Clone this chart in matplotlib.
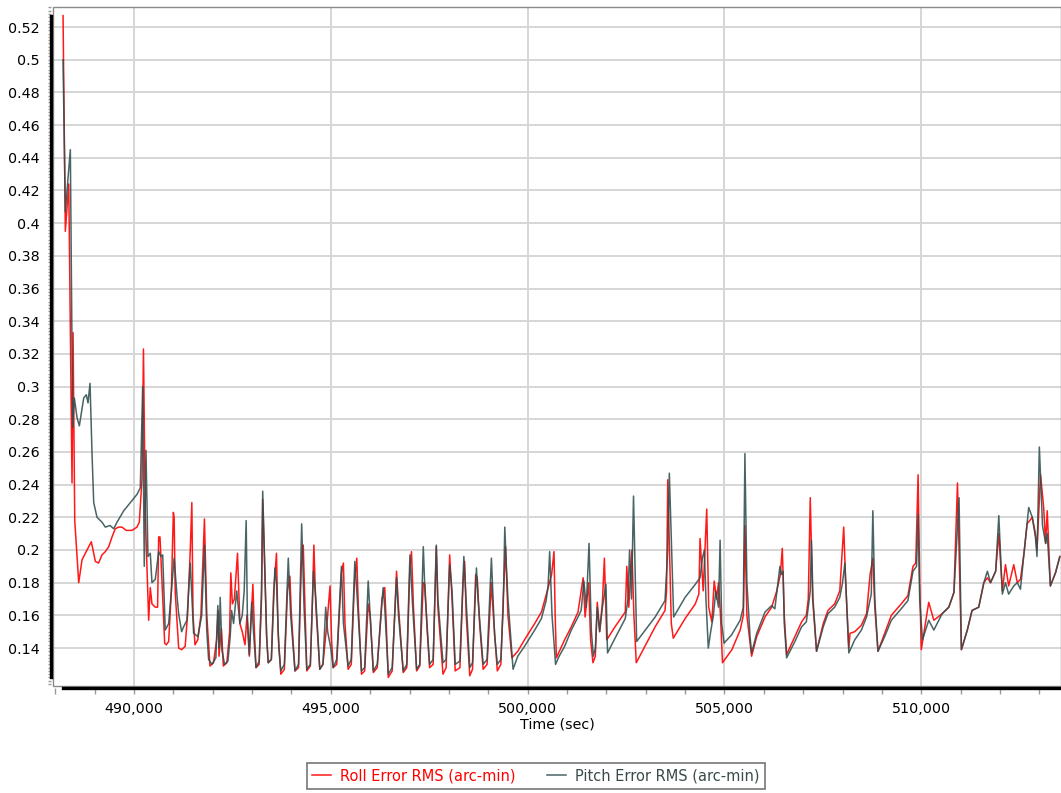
import numpy as np
import matplotlib
matplotlib.use("Agg")
import matplotlib.pyplot as plt
from matplotlib.patches import Rectangle
from matplotlib.ticker import MultipleLocator, FixedLocator, FuncFormatter

# time in thousands of seconds, error RMS in arc-min
roll_points = [
    (488.198, 0.527), (488.256, 0.395), (488.343, 0.424), (488.426, 0.241), (488.452, 0.333),
    (488.495, 0.218), (488.596, 0.180), (488.680, 0.194), (488.764, 0.198), (488.850, 0.202),
    (488.916, 0.205), (488.960, 0.200), (489.018, 0.193), (489.100, 0.192), (489.188, 0.197),
    (489.272, 0.199), (489.358, 0.202), (489.442, 0.208), (489.525, 0.213), (489.610, 0.214),
    (489.695, 0.214), (489.800, 0.212), (489.949, 0.212), (490.076, 0.214), (490.135, 0.217),
    (490.203, 0.243), (490.241, 0.323), (490.287, 0.222), (490.373, 0.157), (490.414, 0.177),
    (490.457, 0.167), (490.541, 0.165), (490.600, 0.165), (490.627, 0.208), (490.660, 0.208),
    (490.685, 0.195), (490.780, 0.143), (490.820, 0.142), (490.881, 0.144), (490.950, 0.175),
    (491.000, 0.223), (491.020, 0.220), (491.048, 0.174), (491.135, 0.140), (491.210, 0.139),
    (491.300, 0.141), (491.360, 0.160), (491.430, 0.200), (491.470, 0.229), (491.500, 0.160),
    (491.550, 0.142), (491.620, 0.145), (491.700, 0.160), (491.790, 0.219), (491.850, 0.160),
    (491.930, 0.129), (492.020, 0.131), (492.100, 0.145), (492.140, 0.163), (492.160, 0.135),
    (492.220, 0.152), (492.270, 0.129), (492.360, 0.131), (492.430, 0.150), (492.460, 0.186),
    (492.500, 0.167), (492.550, 0.170), (492.630, 0.198), (492.690, 0.155), (492.750, 0.150),
    (492.820, 0.142), (492.870, 0.160), (492.930, 0.135), (493.020, 0.179), (493.060, 0.150),
    (493.100, 0.128), (493.180, 0.130), (493.240, 0.170), (493.270, 0.231), (493.310, 0.199),
    (493.370, 0.147), (493.410, 0.131), (493.490, 0.133), (493.550, 0.175), (493.620, 0.198),
    (493.660, 0.150), (493.730, 0.124), (493.820, 0.127), (493.900, 0.175), (493.960, 0.184),
    (494.000, 0.160), (494.090, 0.126), (494.180, 0.128), (494.250, 0.190), (494.300, 0.203),
    (494.350, 0.160), (494.390, 0.126), (494.480, 0.129), (494.540, 0.175), (494.570, 0.203),
    (494.620, 0.165), (494.720, 0.127), (494.800, 0.130), (494.920, 0.160), (494.980, 0.178),
    (495.020, 0.145), (495.060, 0.128), (495.150, 0.130), (495.270, 0.186), (495.320, 0.192),
    (495.360, 0.155), (495.440, 0.127), (495.520, 0.130), (495.600, 0.180), (495.660, 0.195),
    (495.700, 0.165), (495.780, 0.124), (495.860, 0.126), (495.950, 0.167), (496.000, 0.160),
    (496.080, 0.125), (496.180, 0.128), (496.300, 0.170), (496.370, 0.177), (496.400, 0.160),
    (496.460, 0.122), (496.560, 0.126), (496.670, 0.187), (496.720, 0.165), (496.840, 0.125),
    (496.930, 0.128), (497.010, 0.190), (497.050, 0.199), (497.100, 0.165), (497.180, 0.126),
    (497.260, 0.129), (497.350, 0.180), (497.390, 0.179), (497.450, 0.150), (497.510, 0.128),
    (497.600, 0.130), (497.680, 0.202), (497.720, 0.165), (497.850, 0.124), (497.930, 0.128),
    (498.020, 0.197), (498.080, 0.170), (498.160, 0.126), (498.280, 0.128), (498.360, 0.180),
    (498.400, 0.193), (498.440, 0.160), (498.530, 0.123), (498.600, 0.127), (498.680, 0.185),
    (498.720, 0.183), (498.780, 0.155), (498.870, 0.127), (498.970, 0.130), (499.080, 0.180),
    (499.130, 0.160), (499.230, 0.126), (499.320, 0.130), (499.380, 0.170), (499.440, 0.202),
    (499.500, 0.160), (499.600, 0.134), (499.750, 0.138), (499.920, 0.145), (500.050, 0.150),
    (500.180, 0.155), (500.350, 0.162), (500.500, 0.175), (500.610, 0.185), (500.670, 0.199),
    (500.700, 0.160), (500.730, 0.134), (500.940, 0.145), (501.110, 0.153), (501.280, 0.162),
    (501.410, 0.183), (501.460, 0.159), (501.550, 0.180), (501.600, 0.145), (501.660, 0.131),
    (501.720, 0.135), (501.770, 0.168), (501.830, 0.150), (501.900, 0.168), (501.950, 0.195),
    (502.010, 0.145), (502.220, 0.153), (502.480, 0.162), (502.520, 0.190), (502.570, 0.165),
    (502.650, 0.200), (502.700, 0.160), (502.760, 0.131), (503.000, 0.142), (503.240, 0.153),
    (503.490, 0.163), (503.530, 0.175), (503.560, 0.243), (503.650, 0.155), (503.700, 0.146),
    (504.000, 0.158), (504.260, 0.167), (504.350, 0.173), (504.380, 0.207), (504.460, 0.175),
    (504.550, 0.225), (504.600, 0.165), (504.680, 0.156), (504.740, 0.181), (504.800, 0.170),
    (504.850, 0.180), (504.900, 0.160), (504.950, 0.131), (505.190, 0.139), (505.400, 0.151),
    (505.480, 0.160), (505.520, 0.215), (505.570, 0.160), (505.690, 0.135), (505.820, 0.147),
    (506.030, 0.159), (506.200, 0.165), (506.330, 0.175), (506.420, 0.185), (506.470, 0.201),
    (506.520, 0.160), (506.580, 0.136), (506.790, 0.147), (506.960, 0.156), (507.080, 0.160),
    (507.130, 0.170), (507.180, 0.232), (507.240, 0.170), (507.340, 0.138), (507.510, 0.155),
    (507.630, 0.163), (507.800, 0.167), (507.930, 0.175), (508.030, 0.214), (508.080, 0.180),
    (508.160, 0.140), (508.190, 0.149), (508.310, 0.150), (508.480, 0.154), (508.610, 0.161),
    (508.700, 0.185), (508.770, 0.195), (508.820, 0.165), (508.900, 0.138), (509.070, 0.149),
    (509.240, 0.160), (509.490, 0.167), (509.660, 0.172), (509.790, 0.190), (509.860, 0.192),
    (509.920, 0.246), (509.960, 0.180), (510.000, 0.139), (510.190, 0.168), (510.320, 0.157),
    (510.530, 0.161), (510.700, 0.165), (510.830, 0.174), (510.920, 0.241), (511.020, 0.139),
    (511.170, 0.151), (511.290, 0.163), (511.460, 0.165), (511.590, 0.180), (511.680, 0.183),
    (511.760, 0.180), (511.890, 0.187), (511.970, 0.210), (512.060, 0.175), (512.140, 0.191),
    (512.220, 0.178), (512.350, 0.191), (512.440, 0.180), (512.520, 0.182), (512.610, 0.198),
    (512.690, 0.216), (512.820, 0.220), (512.900, 0.210), (512.940, 0.200), (513.030, 0.246),
    (513.110, 0.226), (513.160, 0.204), (513.200, 0.224), (513.280, 0.178), (513.410, 0.186),
    (513.520, 0.196),
]

pitch_points = [
    (488.198, 0.500), (488.256, 0.407), (488.383, 0.445), (488.443, 0.275), (488.485, 0.293),
    (488.553, 0.281), (488.612, 0.276), (488.723, 0.293), (488.789, 0.295), (488.832, 0.290),
    (488.883, 0.302), (488.934, 0.259), (488.977, 0.229), (489.061, 0.220), (489.188, 0.217),
    (489.272, 0.214), (489.391, 0.215), (489.485, 0.213), (489.569, 0.217), (489.739, 0.224),
    (489.906, 0.229), (490.076, 0.234), (490.160, 0.238), (490.221, 0.300), (490.261, 0.190),
    (490.305, 0.261), (490.355, 0.196), (490.414, 0.198), (490.457, 0.180), (490.541, 0.182),
    (490.627, 0.199), (490.685, 0.196), (490.730, 0.197), (490.794, 0.151), (490.881, 0.155),
    (490.950, 0.175), (491.020, 0.195), (491.100, 0.170), (491.135, 0.161), (491.210, 0.150),
    (491.261, 0.153), (491.345, 0.157), (491.430, 0.192), (491.515, 0.149), (491.624, 0.147),
    (491.720, 0.160), (491.790, 0.203), (491.850, 0.150), (491.896, 0.133), (491.980, 0.130),
    (492.080, 0.134), (492.130, 0.166), (492.160, 0.140), (492.190, 0.171), (492.234, 0.139),
    (492.300, 0.130), (492.386, 0.132), (492.444, 0.147), (492.480, 0.163), (492.530, 0.155),
    (492.610, 0.175), (492.690, 0.155), (492.750, 0.160), (492.800, 0.175), (492.850, 0.218),
    (492.880, 0.160), (492.930, 0.136), (492.990, 0.168), (493.050, 0.145), (493.100, 0.128),
    (493.180, 0.132), (493.240, 0.175), (493.270, 0.236), (493.310, 0.200), (493.370, 0.147),
    (493.410, 0.131), (493.490, 0.133), (493.580, 0.189), (493.620, 0.180), (493.680, 0.140),
    (493.730, 0.126), (493.820, 0.130), (493.920, 0.195), (493.980, 0.160), (494.090, 0.126),
    (494.180, 0.130), (494.260, 0.216), (494.320, 0.165), (494.390, 0.127), (494.480, 0.130),
    (494.560, 0.187), (494.620, 0.170), (494.720, 0.127), (494.800, 0.130), (494.870, 0.165),
    (494.920, 0.150), (495.000, 0.140), (495.060, 0.128), (495.150, 0.133), (495.270, 0.190),
    (495.320, 0.155), (495.440, 0.129), (495.520, 0.133), (495.610, 0.193), (495.660, 0.175),
    (495.780, 0.126), (495.860, 0.128), (495.950, 0.181), (496.000, 0.160), (496.080, 0.126),
    (496.180, 0.130), (496.330, 0.177), (496.370, 0.165), (496.460, 0.124), (496.560, 0.128),
    (496.670, 0.183), (496.720, 0.160), (496.840, 0.126), (496.930, 0.130), (497.010, 0.197),
    (497.080, 0.165), (497.180, 0.127), (497.260, 0.130), (497.350, 0.202), (497.390, 0.175),
    (497.510, 0.130), (497.600, 0.133), (497.680, 0.203), (497.720, 0.170), (497.850, 0.131),
    (497.930, 0.133), (498.020, 0.191), (498.080, 0.175), (498.160, 0.130), (498.280, 0.132),
    (498.380, 0.196), (498.440, 0.168), (498.530, 0.128), (498.600, 0.131), (498.700, 0.189),
    (498.740, 0.170), (498.870, 0.130), (498.970, 0.133), (499.080, 0.195), (499.160, 0.148),
    (499.230, 0.130), (499.320, 0.133), (499.380, 0.165), (499.420, 0.214), (499.460, 0.190),
    (499.500, 0.170), (499.630, 0.127), (499.750, 0.135), (499.920, 0.141), (500.050, 0.146),
    (500.180, 0.151), (500.350, 0.158), (500.470, 0.169), (500.520, 0.178), (500.560, 0.199),
    (500.620, 0.160), (500.710, 0.130), (500.800, 0.135), (500.940, 0.141), (501.110, 0.151),
    (501.280, 0.159), (501.360, 0.163), (501.430, 0.181), (501.490, 0.165), (501.560, 0.204),
    (501.620, 0.150), (501.670, 0.135), (501.720, 0.140), (501.770, 0.165), (501.830, 0.150),
    (501.900, 0.165), (501.990, 0.179), (502.030, 0.137), (502.220, 0.146), (502.350, 0.152),
    (502.480, 0.158), (502.550, 0.170), (502.590, 0.200), (502.640, 0.170), (502.690, 0.233),
    (502.770, 0.144), (502.990, 0.151), (503.240, 0.159), (503.490, 0.169), (503.560, 0.200),
    (503.600, 0.247), (503.710, 0.159), (504.000, 0.171), (504.260, 0.179), (504.380, 0.183),
    (504.440, 0.195), (504.490, 0.200), (504.530, 0.170), (504.590, 0.140), (504.650, 0.150),
    (504.720, 0.160), (504.780, 0.175), (504.850, 0.165), (504.890, 0.206), (504.930, 0.155),
    (504.990, 0.143), (505.180, 0.148), (505.400, 0.157), (505.480, 0.165), (505.520, 0.259),
    (505.570, 0.180), (505.650, 0.147), (505.690, 0.137), (505.820, 0.149), (506.030, 0.162),
    (506.200, 0.166), (506.280, 0.164), (506.360, 0.180), (506.410, 0.190), (506.450, 0.185),
    (506.490, 0.187), (506.520, 0.155), (506.580, 0.134), (506.790, 0.144), (506.960, 0.153),
    (507.080, 0.156), (507.130, 0.165), (507.180, 0.175), (507.210, 0.206), (507.250, 0.170),
    (507.340, 0.138), (507.510, 0.153), (507.630, 0.161), (507.800, 0.165), (507.930, 0.171),
    (508.000, 0.180), (508.060, 0.192), (508.100, 0.170), (508.160, 0.137), (508.310, 0.145),
    (508.480, 0.151), (508.610, 0.159), (508.730, 0.173), (508.770, 0.224), (508.820, 0.170),
    (508.900, 0.138), (509.070, 0.147), (509.240, 0.157), (509.490, 0.164), (509.660, 0.169),
    (509.790, 0.187), (509.880, 0.190), (509.920, 0.222), (509.960, 0.170), (510.030, 0.145),
    (510.190, 0.157), (510.320, 0.151), (510.530, 0.161), (510.700, 0.165), (510.830, 0.174),
    (510.960, 0.232), (511.020, 0.139), (511.170, 0.151), (511.290, 0.163), (511.460, 0.165),
    (511.590, 0.180), (511.680, 0.187), (511.760, 0.180), (511.890, 0.187), (511.970, 0.221),
    (512.060, 0.173), (512.140, 0.180), (512.220, 0.173), (512.350, 0.178), (512.440, 0.180),
    (512.520, 0.176), (512.610, 0.198), (512.730, 0.226), (512.820, 0.220), (512.900, 0.208),
    (512.940, 0.196), (513.000, 0.263), (513.080, 0.215), (513.160, 0.204), (513.200, 0.210),
    (513.280, 0.178), (513.410, 0.186), (513.520, 0.196),
]

ROLL_COLOR = "#ff0000"
PITCH_COLOR = "#2f4f4f"

roll_t, roll_v = zip(*roll_points)
pitch_t, pitch_v = zip(*pitch_points)
roll_t = [t * 1000 for t in roll_t]
pitch_t = [t * 1000 for t in pitch_t]

plt.rcParams["font.family"] = "DejaVu Sans"

fig = plt.figure(figsize=(10.61, 7.93), dpi=100)
ax = fig.add_axes([0.050, 0.135, 0.950, 0.856])

ax.plot(roll_t, roll_v, color=ROLL_COLOR, lw=1.1, alpha=0.9, zorder=3,
        label="Roll Error RMS (arc-min)")
ax.plot(pitch_t, pitch_v, color=PITCH_COLOR, lw=1.1, alpha=0.88, zorder=4,
        label="Pitch Error RMS (arc-min)")

ax.set_xlim(487944, 513550)
ax.set_ylim(0.1168, 0.5322)

ax.xaxis.set_major_locator(MultipleLocator(5000))
ax.xaxis.set_minor_locator(MultipleLocator(1000))
ax.yaxis.set_major_locator(FixedLocator(np.arange(0.14, 0.5201, 0.02)))
ax.yaxis.set_minor_locator(MultipleLocator(0.002))
ax.xaxis.set_major_formatter(FuncFormatter(lambda x, p: f"{x:,.0f}"))
ax.yaxis.set_major_formatter(
    FuncFormatter(lambda v, p: f"{round(v, 2):.2f}".rstrip("0").rstrip(".")))

ax.grid(which="major", color="#d6d6d6", lw=1.4)
ax.set_axisbelow(True)

# grey plot frame plus heavy black axis lines spanning the data
ax.add_patch(Rectangle((0, 0), 1, 1, transform=ax.transAxes, fill=False,
                       edgecolor="#8a8a8a", lw=1.0, clip_on=False, zorder=1))
for side in ("top", "right"):
    ax.spines[side].set_visible(False)
for side in ("left", "bottom"):
    ax.spines[side].set_color("black")
    ax.spines[side].set_linewidth(2.4)
    ax.spines[side].set_position(("outward", 1.5))
ax.spines["left"].set_bounds(min(min(roll_v), min(pitch_v)), max(max(roll_v), max(pitch_v)))
ax.spines["bottom"].set_bounds(min(roll_t), max(roll_t))

ax.tick_params(axis="y", which="both", direction="out", color="#9a9a9a",
               length=2, width=1, labelsize=10.3, pad=6)
ax.tick_params(axis="x", which="both", direction="out", color="#9a9a9a",
               length=4, width=1, labelsize=10.3, pad=6)

ax.set_xlabel("Time (sec)", fontsize=10.3, labelpad=1)

leg = fig.legend(loc="center", bbox_to_anchor=(0.505, 0.0215), ncol=2,
                 frameon=True, fancybox=False, edgecolor="#555555",
                 handlelength=1.3, fontsize=10.5, labelcolor="linecolor",
                 borderpad=0.35, columnspacing=2.2, handletextpad=0.6)
leg.get_frame().set_linewidth(1.2)
for txt, c in zip(leg.get_texts(), (ROLL_COLOR, "#3a4a4a")):
    txt.set_color(c)

fig.savefig("out.png", dpi=100)
